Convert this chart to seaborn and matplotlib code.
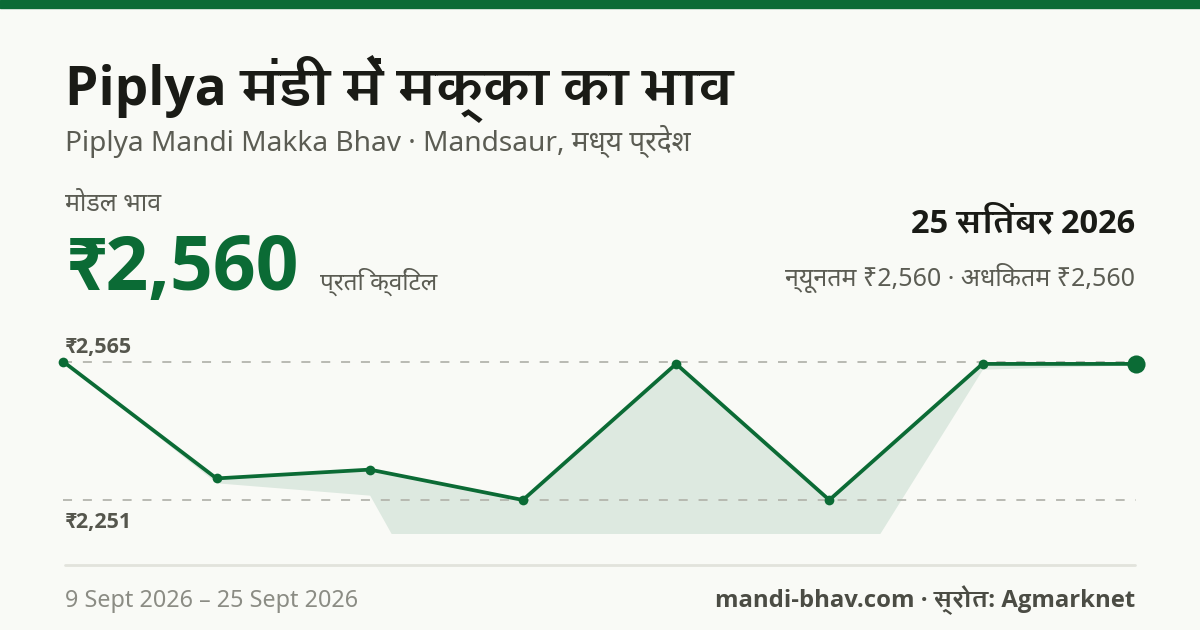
import numpy as np
import pandas as pd
import seaborn as sns
import matplotlib
matplotlib.use("Agg")
import matplotlib.pyplot as plt
from matplotlib import font_manager, ft2font

# modal price per arrival day (9 Sept .. 25 Sept 2026)
days = [0, 1, 2, 3, 4, 5, 6, 7]
modal_price = [2565, 2300, 2320, 2251, 2560, 2251, 2560, 2560]

# lower edge of the shaded band
band_x = [0, 1, 2, 2.14, 5.33, 6, 7]
band_low = [2565, 2290, 2262, 2175, 2175, 2548, 2558]

ref_high = 2565
ref_low = 2251

title = "Piplya मंडी में मक्का का भाव"
subtitle = "Piplya Mandi Makka Bhav · Mandsaur, मध्य प्रदेश"
price_label = "मोडल भाव"
price_text = "₹2,560"
unit_text = "प्रति क्विंटल"
date_text = "25 सितंबर 2026"
range_text = "न्यूनतम ₹2,560 · अधिकतम ₹2,560"
range_footer = "9 Sept 2026 – 25 Sept 2026"
source_text = "mandi-bhav.com · स्रोत: Agmarknet"

GREEN = "#0b6b35"
BG = "#f9faf6"


def is_bold(w):
    if isinstance(w, (int, float)):
        return w >= 600
    return str(w).lower() in ("bold", "semibold", "demibold", "heavy", "black", "extra bold")


# fonts that carry a given glyph, with the weights they come in
def fonts_with(code):
    out = {}
    for f in font_manager.fontManager.ttflist:
        try:
            if code in ft2font.FT2Font(f.fname).get_charmap():
                out.setdefault(f.name, set()).add(f.weight)
        except Exception:
            pass
    return out


deva = fonts_with(0x0915)
latin = fonts_with(0x0050)
deva_reg = sorted(deva)[0] if deva else "DejaVu Sans"
deva_bold = next((n for n, w in sorted(deva.items()) if any(is_bold(x) for x in w)), deva_reg)
latin_reg = "Noto Sans"
latin_bold = next((n for n in ["Noto Sans", "Open Sans", "Lato", "Roboto"]
                   if n in latin and any(is_bold(x) for x in latin[n])), "DejaVu Sans")

sns.set_theme(style="white")
REG = [latin_reg, deva_reg, "DejaVu Sans"]
BOLD = [latin_bold, deva_bold, "DejaVu Sans"]
plt.rcParams["font.family"] = REG

W, H = 1200, 630
fig = plt.figure(figsize=(12, 6.3), dpi=100)
fig.patch.set_facecolor(BG)


def px(x, y):
    return x / W, 1 - y / H


# top green bar
fig.patches.append(plt.Rectangle((0, 1 - 8 / H), 1, 8 / H, transform=fig.transFigure,
                                 color=GREEN, zorder=0))

# chart axes: pixel box 63.3..1135.7 wide, 340..545 tall
top_px, bot_px = 340, 545
y_hi_px, y_lo_px = 361.7, 500.0
scale = (ref_high - ref_low) / (y_lo_px - y_hi_px)
ylim_top = ref_high + (y_hi_px - top_px) * scale
ylim_bot = ref_low - (bot_px - y_lo_px) * scale
ax = fig.add_axes([63.3 / W, 1 - bot_px / H, (1135.7 - 63.3) / W, (bot_px - top_px) / H])
ax.set_facecolor("none")
ax.set_xlim(0, 7)
ax.set_ylim(ylim_bot, ylim_top)
ax.axis("off")

# shaded band
x_all = np.unique(np.concatenate([days, band_x]))
upper = np.interp(x_all, days, modal_price)
lower = np.interp(x_all, band_x, band_low)
ax.fill_between(x_all, lower, upper, color="#dde9e0", lw=0, zorder=1)

for v in [ref_high, ref_low]:
    ax.axhline(v, color="#b4b5ad", lw=1.3, dashes=(5, 6), zorder=2)

df = pd.DataFrame({"day": days, "price": modal_price})
sns.lineplot(data=df, x="day", y="price", ax=ax, color=GREEN, lw=2.7,
             marker="o", markersize=7, markeredgewidth=0, zorder=3, clip_on=False)
sns.scatterplot(x=days[-1:], y=modal_price[-1:], ax=ax, color=GREEN, s=170,
                linewidth=0, zorder=4, clip_on=False)

# texts
DARK = "#1a1b16"
GREY = "#5b5c53"
fig.text(*px(65, 105), title, fontsize=38.3, fontweight="bold", color=DARK, family=BOLD)
fig.text(*px(65, 151), subtitle, fontsize=20.2, color=GREY)
fig.text(*px(65, 211), price_label, fontsize=18, color=GREY)
fig.text(*px(62, 290), price_text, fontsize=54, fontweight="bold", color=GREEN, family=BOLD)
fig.text(*px(320, 290), unit_text, fontsize=17.5, color=GREY)
fig.text(*px(1135, 232), date_text, fontsize=23.5, fontweight="bold", color=DARK, ha="right",
         family=BOLD)
fig.text(*px(1135, 286), range_text, fontsize=18, color=GREY, ha="right")
fig.text(*px(64, 353), f"₹{ref_high:,}", fontsize=15.5, fontweight="bold", color="#55564d",
         family=BOLD)
fig.text(*px(64, 528), f"₹{ref_low:,}", fontsize=15.5, fontweight="bold", color="#55564d",
         family=BOLD)

# footer
fig.add_artist(plt.Line2D([65 / W, 1135 / W], [1 - 565 / H] * 2, color="#e2e3dc", lw=2))
fig.text(*px(65, 607), range_footer, fontsize=16.8, color="#8b8c84")
fig.text(*px(1135, 607), source_text, fontsize=17.2, fontweight="bold", color="#4b4c44",
         ha="right", family=BOLD)

fig.savefig("out.png", dpi=100, facecolor=BG)
